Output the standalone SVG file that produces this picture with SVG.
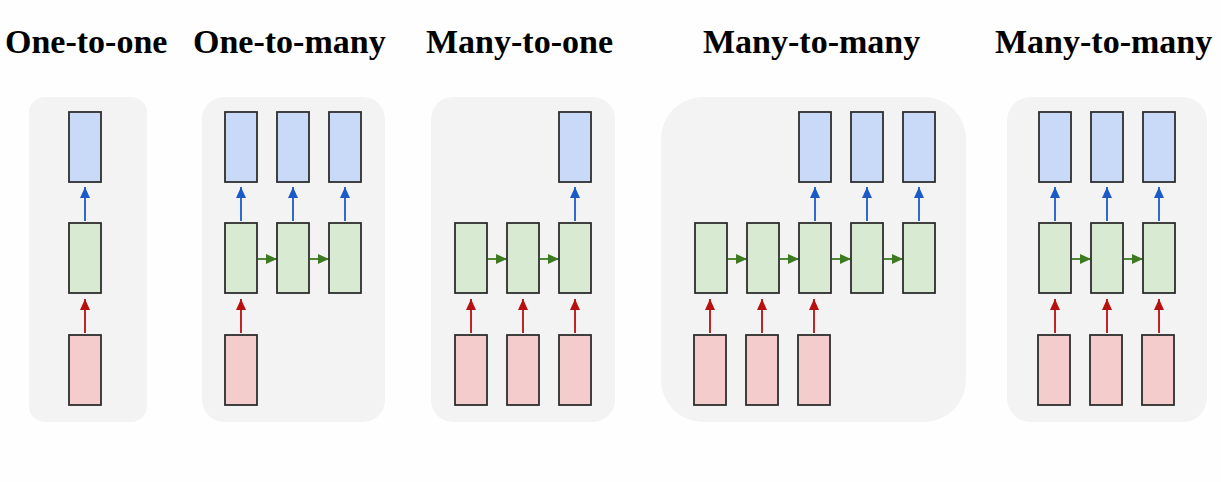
<svg xmlns="http://www.w3.org/2000/svg" width="1221" height="482" viewBox="0 0 1221 482">
<defs>
<style>
.title{font-family:"Liberation Serif","Times New Roman",serif;font-weight:bold;font-size:34px;fill:#000}
.panel{fill:#f3f3f3}
.o{fill:#c9daf8;stroke:#2e2e2e;stroke-width:1.8}
.h{fill:#d9ead3;stroke:#2e2e2e;stroke-width:1.8}
.i{fill:#f4cccc;stroke:#2e2e2e;stroke-width:1.8}
.ab{stroke:#1a5bc8;stroke-width:1.8;fill:none;marker-end:url(#mb)}
.ar{stroke:#b80f0f;stroke-width:1.8;fill:none;marker-end:url(#mr)}
.ag{stroke:#3e7a22;stroke-width:1.8;fill:none;marker-end:url(#mg)}
</style>
<marker id="mb" markerUnits="userSpaceOnUse" markerWidth="11" markerHeight="11" refX="11" refY="5.5" orient="auto"><path d="M0,0.5 L11,5.5 L0,10.5 z" fill="#1a5bc8"/></marker>
<marker id="mr" markerUnits="userSpaceOnUse" markerWidth="11" markerHeight="11" refX="11" refY="5.5" orient="auto"><path d="M0,0.5 L11,5.5 L0,10.5 z" fill="#b80f0f"/></marker>
<marker id="mg" markerUnits="userSpaceOnUse" markerWidth="11" markerHeight="11" refX="11" refY="5.5" orient="auto"><path d="M0,0.5 L11,5.5 L0,10.5 z" fill="#3e7a22"/></marker>
</defs>
<rect width="1221" height="482" fill="#fefefe"/>
<g id="titles">
<text class="title" x="5" y="53">One-to-one</text>
<text class="title" x="193" y="53">One-to-many</text>
<text class="title" x="426" y="53">Many-to-one</text>
<text class="title" x="703" y="53">Many-to-many</text>
<text class="title" x="995" y="53">Many-to-many</text>
</g>
<g id="panels">
<rect class="panel" x="29" y="97" width="118" height="325" rx="16"/>
<rect class="panel" x="202" y="97" width="183" height="325" rx="22"/>
<rect class="panel" x="431" y="97" width="184" height="325" rx="22"/>
<rect class="panel" x="661" y="97" width="305" height="325" rx="42"/>
<rect class="panel" x="1007" y="97" width="200" height="325" rx="24"/>
</g>
<g id="connectors">
<line class="ab" x1="85" y1="221" x2="85" y2="187"/>
<line class="ar" x1="85" y1="333" x2="85" y2="299"/>
<line class="ab" x1="241" y1="221" x2="241" y2="187"/>
<line class="ab" x1="293" y1="221" x2="293" y2="187"/>
<line class="ab" x1="345" y1="221" x2="345" y2="187"/>
<line class="ar" x1="241" y1="333" x2="241" y2="299"/>
<line class="ag" x1="258" y1="259" x2="277" y2="259"/>
<line class="ag" x1="310" y1="259" x2="329" y2="259"/>
<line class="ab" x1="575" y1="221" x2="575" y2="187"/>
<line class="ar" x1="471" y1="333" x2="471" y2="299"/>
<line class="ar" x1="523" y1="333" x2="523" y2="299"/>
<line class="ar" x1="575" y1="333" x2="575" y2="299"/>
<line class="ag" x1="488" y1="259" x2="507" y2="259"/>
<line class="ag" x1="540" y1="259" x2="559" y2="259"/>
<line class="ab" x1="815" y1="221" x2="815" y2="187"/>
<line class="ab" x1="867" y1="221" x2="867" y2="187"/>
<line class="ab" x1="919" y1="221" x2="919" y2="187"/>
<line class="ar" x1="710" y1="333" x2="710" y2="299"/>
<line class="ar" x1="762" y1="333" x2="762" y2="299"/>
<line class="ar" x1="814" y1="333" x2="814" y2="299"/>
<line class="ag" x1="728" y1="259" x2="747" y2="259"/>
<line class="ag" x1="780" y1="259" x2="799" y2="259"/>
<line class="ag" x1="832" y1="259" x2="851" y2="259"/>
<line class="ag" x1="884" y1="259" x2="903" y2="259"/>
<line class="ab" x1="1055" y1="221" x2="1055" y2="187"/>
<line class="ab" x1="1107" y1="221" x2="1107" y2="187"/>
<line class="ab" x1="1159" y1="221" x2="1159" y2="187"/>
<line class="ar" x1="1055" y1="333" x2="1055" y2="299"/>
<line class="ar" x1="1107" y1="333" x2="1107" y2="299"/>
<line class="ar" x1="1159" y1="333" x2="1159" y2="299"/>
<line class="ag" x1="1072" y1="259" x2="1091" y2="259"/>
<line class="ag" x1="1124" y1="259" x2="1143" y2="259"/>
</g>
<g id="one-to-one">
<rect class="o" x="69" y="112" width="32" height="70"/>
<rect class="h" x="69" y="223" width="32" height="70"/>
<rect class="i" x="69" y="335" width="32" height="70"/>
</g>
<g id="one-to-many">
<rect class="o" x="225" y="112" width="32" height="70"/>
<rect class="o" x="277" y="112" width="32" height="70"/>
<rect class="o" x="329" y="112" width="32" height="70"/>
<rect class="h" x="225" y="223" width="32" height="70"/>
<rect class="h" x="277" y="223" width="32" height="70"/>
<rect class="h" x="329" y="223" width="32" height="70"/>
<rect class="i" x="225" y="335" width="32" height="70"/>
</g>
<g id="many-to-one">
<rect class="o" x="559" y="112" width="32" height="70"/>
<rect class="h" x="455" y="223" width="32" height="70"/>
<rect class="h" x="507" y="223" width="32" height="70"/>
<rect class="h" x="559" y="223" width="32" height="70"/>
<rect class="i" x="455" y="335" width="32" height="70"/>
<rect class="i" x="507" y="335" width="32" height="70"/>
<rect class="i" x="559" y="335" width="32" height="70"/>
</g>
<g id="many-to-many-1">
<rect class="o" x="799" y="112" width="32" height="70"/>
<rect class="o" x="851" y="112" width="32" height="70"/>
<rect class="o" x="903" y="112" width="32" height="70"/>
<rect class="h" x="695" y="223" width="32" height="70"/>
<rect class="h" x="747" y="223" width="32" height="70"/>
<rect class="h" x="799" y="223" width="32" height="70"/>
<rect class="h" x="851" y="223" width="32" height="70"/>
<rect class="h" x="903" y="223" width="32" height="70"/>
<rect class="i" x="694" y="335" width="32" height="70"/>
<rect class="i" x="746" y="335" width="32" height="70"/>
<rect class="i" x="798" y="335" width="32" height="70"/>
</g>
<g id="many-to-many-2">
<rect class="o" x="1039" y="112" width="32" height="70"/>
<rect class="o" x="1091" y="112" width="32" height="70"/>
<rect class="o" x="1143" y="112" width="32" height="70"/>
<rect class="h" x="1039" y="223" width="32" height="70"/>
<rect class="h" x="1091" y="223" width="32" height="70"/>
<rect class="h" x="1143" y="223" width="32" height="70"/>
<rect class="i" x="1038" y="335" width="32" height="70"/>
<rect class="i" x="1090" y="335" width="32" height="70"/>
<rect class="i" x="1142" y="335" width="32" height="70"/>
</g>
</svg>
